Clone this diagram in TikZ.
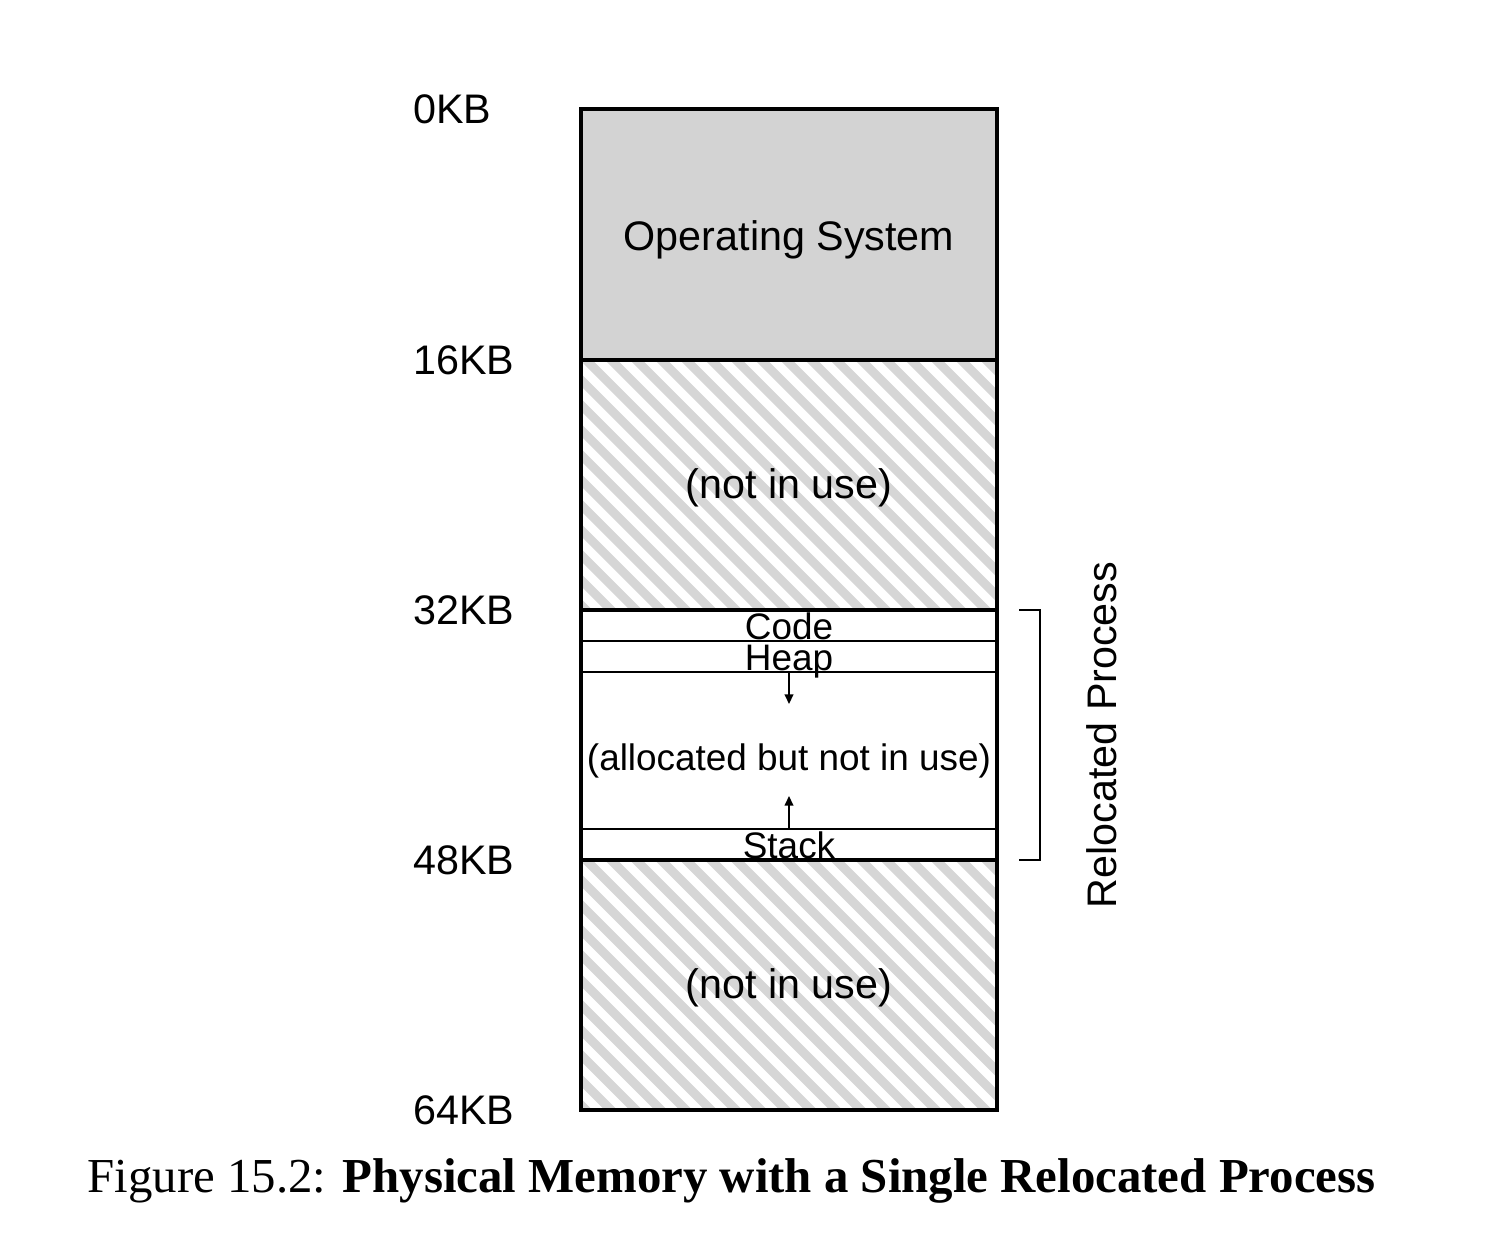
\documentclass[tikz,border=0pt]{standalone}
\usepackage{fontspec}
\setmainfont{Liberation Sans}
\newfontfamily\capfont{Liberation Serif}
\usetikzlibrary{arrows.meta}
\definecolor{osgray}{RGB}{211,211,211}
\definecolor{hatchgray}{RGB}{214,214,214}

\begin{document}
\begin{tikzpicture}[x=0.02cm,y=-0.02cm,
  big/.style={font=\fontsize{23.5}{28}\selectfont},
  small/.style={font=\fontsize{21}{25}\selectfont},
  kblabel/.style={big,anchor=base west,inner sep=0pt},
  celltext/.style={small,anchor=base,inner sep=0pt},
  frame/.style={line width=2pt},
  thinrule/.style={line width=1.1pt},
  hatch/.style={line width=0.177cm,draw=hatchgray},
  growarrow/.style={line width=0.8pt,-{Triangle[length=5.5pt,width=5pt]}}]
  \useasboundingbox (0,0) rectangle (1486,1246);
  % OS block and unused blocks
  \fill[osgray] (581,109) rectangle (997,360);
  \foreach \top in {360,860} {
    \begin{scope}
      \clip (581,\top) rectangle (997,\top+250);
      \foreach \k in {-11,...,17} { \draw[hatch] (581+25*\k,\top-5) -- ++(262,262); }
    \end{scope}
  }
  % process cells
  \foreach \y in {641,672,829} { \draw[thinrule] (581,\y) -- (997,\y); }
  \draw[frame] (581,109) rectangle (997,1110);
  \foreach \y in {360,610,860} { \draw[frame] (581,\y) -- (997,\y); }
  % growth arrows
  \coordinate (heapbot) at (789,672);
  \coordinate (heaptip) at (789,704);
  \coordinate (stacktop) at (789,829);
  \coordinate (stacktip) at (789,796);
  \draw[growarrow] (heapbot) -- (heaptip);
  \draw[growarrow] (stacktop) -- (stacktip);
  % texts
  \node[big,anchor=base,inner sep=0pt] (os) at (789,251) {Operating System};
  \node[big,anchor=base,inner sep=0pt] (free1) at (789,498) {(not in use)};
  \node[big,anchor=base,inner sep=0pt] (free2) at (789,998) {(not in use)};
  \node[celltext] (code) at (789,639.5) {Code};
  \node[celltext] (heap) at (789,670) {Heap};
  \node[celltext] (gap) at (789,770) {(allocated but not in use)};
  \node[celltext] (stack) at (789,858) {Stack};
  \foreach \kb/\y in {0/109,16/360,32/610,48/860,64/1110} { \node[kblabel] (kb\kb) at (413,\y+14.5) {\kb KB}; }
  % bracket
  \coordinate (brtop) at (1019,610);
  \coordinate (brbot) at (1019,860);
  \draw[line width=0.85pt] (brtop) -- ++(21,0) |- (brbot);
  \node[big,rotate=90] (reloc) at (1102,735) {Relocated Process};
  % caption
  \node[anchor=base,inner sep=0pt,font=\capfont\fontsize{27.8}{32}\selectfont] (caption) at (731.5,1192)
    {Figure 15.2: \textbf{Physical Memory with a Single Relocated Process}};
\end{tikzpicture}
\end{document}
